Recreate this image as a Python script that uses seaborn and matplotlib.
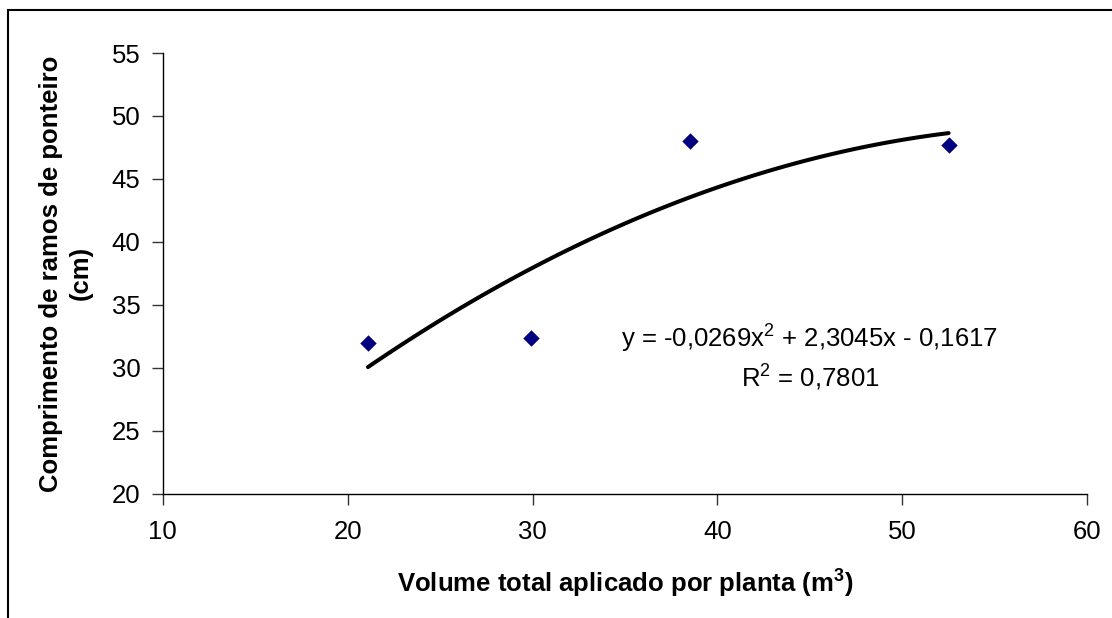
import pandas as pd
import matplotlib.pyplot as plt
import seaborn as sns
from matplotlib.patches import Rectangle

# Data
volume = [21.1, 29.9, 38.5, 52.5]          # m3 per plant
comprimento = [32.0, 32.4, 48.0, 47.7]     # cm
x_ticks = [10, 20, 30, 40, 50, 60]
y_ticks = [20, 25, 30, 35, 40, 45, 50, 55]
equation = 'y = -0,0269x$^{2}$ + 2,3045x - 0,1617'
r2_text = 'R$^{2}$ = 0,7801'

df = pd.DataFrame({'volume': volume, 'comprimento': comprimento})

sns.set_style('ticks')
plt.rcParams['font.family'] = ['Liberation Sans', 'DejaVu Sans']
plt.rcParams['mathtext.fontset'] = 'custom'
plt.rcParams['mathtext.rm'] = 'Liberation Sans'
plt.rcParams['mathtext.bf'] = 'Liberation Sans:bold'
plt.rcParams['text.color'] = 'black'
plt.rcParams['axes.labelcolor'] = 'black'
plt.rcParams['xtick.labelcolor'] = 'black'
plt.rcParams['ytick.labelcolor'] = 'black'

fs = 18.5

fig = plt.figure(figsize=(11.12, 6.18), dpi=100)
ax = fig.add_axes([0.1463, 0.2011, 0.8315, 0.7131])

# Excel-like frame around the chart (right/bottom edges fall outside)
fig.add_artist(Rectangle((8 / 1112, -0.1), 1.2, 1.1 - 10 / 618,
                         transform=fig.transFigure, fill=False,
                         edgecolor='black', linewidth=1.5))

# Polynomial trendline (order 2) fitted on the points
sns.regplot(data=df, x='volume', y='comprimento', order=2, ci=None,
            scatter=False, truncate=True, ax=ax,
            line_kws={'color': 'black', 'linewidth': 2.9})

sns.scatterplot(data=df, x='volume', y='comprimento', marker='D', s=70,
                color='#000080', linewidth=0, ax=ax, zorder=3)

ax.set_xlim(10, 60)
ax.set_ylim(20, 55)
ax.set_xticks(x_ticks)
ax.set_yticks(y_ticks)
ax.tick_params(axis='both', labelsize=fs, length=8, width=1,
               color='#333333', direction='out')
ax.tick_params(axis='x', pad=11)
ax.tick_params(axis='y', pad=8)
for side in ['top', 'right']:
    ax.spines[side].set_visible(False)
for side in ['left', 'bottom']:
    ax.spines[side].set_linewidth(1)
    ax.spines[side].set_color('black')

ax.set_xlabel(r'Volume total aplicado por planta (m$^{\mathbf{3}}$)',
              fontsize=fs, fontweight='bold', labelpad=16)
ax.set_ylabel('Comprimento de ramos de ponteiro\n(cm)',
              fontsize=fs, fontweight='bold', labelpad=14, linespacing=1.3)

ax.text(45.0, 32.4, equation, fontsize=fs, ha='center', va='center')
ax.text(45.0, 29.3, r2_text, fontsize=fs, ha='center', va='center')

fig.savefig('out.png', dpi=100)
